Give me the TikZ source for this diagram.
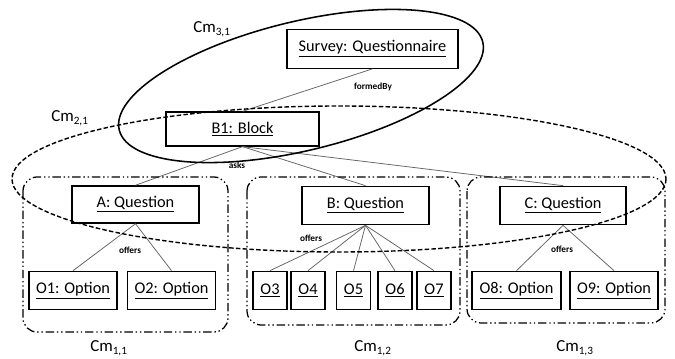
\documentclass[tikz,border=0pt]{standalone}
\usepackage{fontspec}
\setmainfont{Carlito}

\begin{document}
\begin{tikzpicture}[
  x=0.025cm, y=-0.025cm,
  cls/.style={draw, line width=0.9pt, inner sep=0pt, align=center,
              minimum height=0.96cm, font=\fontsize{11.6}{14}\selectfont},
  link/.style={draw=black!60, line width=0.55pt},
  role/.style={font=\fontsize{6.6}{8}\selectfont\bfseries, inner sep=1pt},
  cmlabel/.style={font=\fontsize{12}{14}\selectfont, inner sep=1pt},
  group/.style={line width=0.9pt, rounded corners=10pt,
                dash pattern=on 6pt off 2pt on 1pt off 2pt on 1pt off 2pt}
]
  \useasboundingbox (0,0) rectangle (675,359);

  % classes
  \node[cls, minimum width=4.28cm]              (survey) at (372.5,49)  {\underline{Survey: Questionnaire}};
  \node[cls, minimum width=3.83cm, minimum height=0.85cm] (b1) at (242.5,129) {\underline{B1: Block}};
  \node[cls, minimum width=3.18cm, minimum height=0.93cm] (qa) at (135.5,204.5) {\underline{A: Question}};
  \node[cls, minimum width=3.18cm]              (qb) at (365.5,205.5) {\underline{B: Question}};
  \node[cls, minimum width=3.15cm]              (qc) at (563,205.5)   {\underline{C: Question}};

  \node[cls, minimum width=2.2cm]  (o1) at (73,290.5)    {\underline{O1: Option}};
  \node[cls, minimum width=2.2cm]  (o2) at (171.5,290.5) {\underline{O2: Option}};
  \node[cls, minimum width=0.85cm] (o3) at (270,290.5)   {\underline{O3}};
  \node[cls, minimum width=0.85cm] (o4) at (308,290.5)   {\underline{O4}};
  \node[cls, minimum width=0.85cm] (o5) at (353.5,290.5) {\underline{O5}};
  \node[cls, minimum width=0.85cm] (o6) at (395,290.5)   {\underline{O6}};
  \node[cls, minimum width=0.85cm] (o7) at (434,290.5)   {\underline{O7}};
  \node[cls, minimum width=2.22cm] (o8) at (516.5,290.5) {\underline{O8: Option}};
  \node[cls, minimum width=2.2cm]  (o9) at (614,290.5)   {\underline{O9: Option}};

  % links
  \draw[link] (survey.south) -- (b1.north);
  \draw[link] (b1.south) -- (qa.north);
  \draw[link] (b1.south) -- (qb.north);
  \draw[link] (b1.south) -- (qc.north);
  \draw[link] (qa.south) -- (o1.north);
  \draw[link] (qa.south) -- (o2.north);
  \draw[link] (qb.south) -- (o3.north);
  \draw[link] (qb.south) -- (o4.north);
  \draw[link] (qb.south) -- (o5.north);
  \draw[link] (qb.south) -- (o6.north);
  \draw[link] (qb.south) -- (o7.north);
  \draw[link] (qc.south) -- (o8.north);
  \draw[link] (qc.south) -- (o9.north);

  \node[role] (formed) at (373,87)  {formedBy};
  \node[role] (asks)   at (237,165) {asks};
  \node[role] (offa)   at (130,250) {offers};
  \node[role] (offb)   at (311,238) {offers};
  \node[role] (offc)   at (562,249) {offers};

  % clusters
  \draw[group] (23,177) rectangle (228,332);
  \draw[group] (247,177) rectangle (460,325);
  \draw[group] (467,177) rectangle (665,323);
  \draw[line width=1pt, dash pattern=on 3.2pt off 1.6pt] (339,179) ellipse [x radius=327, y radius=73];
  \draw[line width=1.1pt, rotate around={13.6:(301,86)}] (301,86) ellipse [x radius=187, y radius=64.5];

  \node[cmlabel] (cm31) at (212,29)  {Cm\textsubscript{3,1}};
  \node[cmlabel] (cm21) at (70,118)  {Cm\textsubscript{2,1}};
  \node[cmlabel] (cm11) at (109,348) {Cm\textsubscript{1,1}};
  \node[cmlabel] (cm12) at (373,348) {Cm\textsubscript{1,2}};
  \node[cmlabel] (cm13) at (575,348) {Cm\textsubscript{1,3}};
\end{tikzpicture}
\end{document}
